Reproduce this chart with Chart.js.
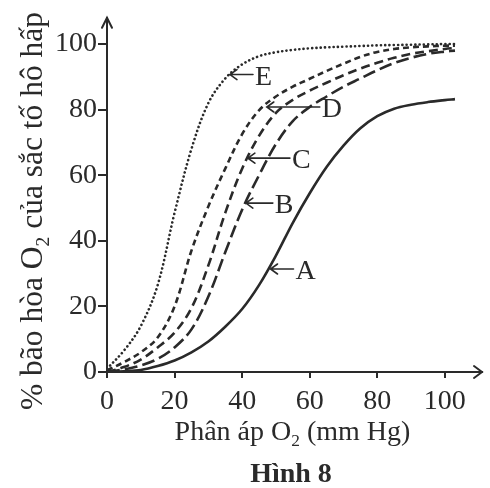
<!DOCTYPE html>
<html>
<head>
<meta charset="utf-8">
<script src="https://cdn.jsdelivr.net/npm/chart.js@4"></script>
<style>
  html, body { margin: 0; padding: 0; background: #fff; }
  #wrap { width: 490px; height: 488px; }
</style>
</head>
<body>
<div id="wrap"><canvas id="chart" width="490" height="488"></canvas></div>
<script>
// Oxygen dissociation curves, Hinh 8
const pressure = [0, 5, 10, 15, 20, 25, 30, 35, 40, 45, 50, 55, 60, 65, 70, 75, 80, 85, 90, 95, 100, 103];
const curveA = [0, 0.2, 0.6, 1.8, 3.5, 6, 9.3, 13.8, 19.2, 26.5, 35.5, 45.5, 54.5, 62.5, 69, 74.3, 78, 80.3, 81.5, 82.3, 82.9, 83.2];
const curveB = [0, 0.8, 2, 4, 7.5, 13, 23, 36.5, 49.5, 60, 69.5, 76.5, 80.8, 84, 87, 89.5, 92, 94.2, 95.8, 97, 97.7, 98];
const curveC = [0, 1.5, 3.8, 7.5, 12, 19.5, 32.5, 48.5, 62, 72, 79, 83, 85.8, 88.2, 90.5, 92.5, 94.3, 95.8, 97, 97.8, 98.5, 98.8];
const curveD = [0.5, 3, 6, 10.5, 20, 37, 50.5, 62, 72.5, 79.8, 84, 87, 89.4, 91.8, 94, 96.1, 97.6, 98.5, 99, 99.3, 99.5, 99.5];
const curveE = [1, 6.5, 14, 26.5, 48.5, 68, 82, 89.5, 93.8, 96.3, 97.5, 98.2, 98.7, 99, 99.2, 99.4, 99.6, 99.7, 99.8, 99.9, 100, 100];
const xTicks = [0, 20, 40, 60, 80, 100];
const yTicks = [0, 20, 40, 60, 80, 100];

const ink = '#2a2a2a';
const serif = "'Liberation Serif', 'Times New Roman', serif";

function points(values) {
    return values.map((v, i) => ({ x: pressure[i], y: v }));
}

function series(label, values, dash, cap) {
    return {
        label: label,
        data: points(values),
        borderColor: ink,
        borderWidth: 2.6,
        borderDash: dash,
        borderCapStyle: cap || 'butt',
        pointRadius: 0,
        fill: false,
        tension: 0.35
    };
}

// arrow tip sits on the curve (data units), line runs right for len px
const callouts = [
    { name: 'E', x: 36.4, y: 90.7, len: 23 },
    { name: 'D', x: 47.3, y: 80.8, len: 53 },
    { name: 'C', x: 41.7, y: 65.2, len: 42 },
    { name: 'B', x: 41.1, y: 51.5, len: 27 },
    { name: 'A', x: 48.4, y: 31.4, len: 23 }
];

function drawRich(ctx, parts, x, y, size, align) {
    let width = 0;
    parts.forEach(p => {
        ctx.font = (p.sub ? size * 0.62 : size) + 'px ' + serif;
        p.w = ctx.measureText(p.t).width;
        width += p.w;
    });
    let cx = align === 'center' ? x - width / 2 : x;
    parts.forEach(p => {
        ctx.font = (p.sub ? size * 0.62 : size) + 'px ' + serif;
        ctx.fillText(p.t, cx, p.sub ? y + size * 0.22 : y);
        cx += p.w;
    });
}

const decorations = {
    id: 'decorations',
    afterDraw(chart) {
        const ctx = chart.ctx;
        const xs = chart.scales.x, ys = chart.scales.y;
        const area = chart.chartArea;
        ctx.save();
        ctx.strokeStyle = ink;
        ctx.fillStyle = ink;
        ctx.lineWidth = 2;
        ctx.lineCap = 'round';

        // axis arrow heads
        ctx.beginPath();
        ctx.moveTo(area.left - 5, area.top + 10);
        ctx.lineTo(area.left, area.top);
        ctx.lineTo(area.left + 5, area.top + 10);
        ctx.moveTo(area.right - 8, area.bottom - 6);
        ctx.lineTo(area.right, area.bottom);
        ctx.lineTo(area.right - 8, area.bottom + 6);
        ctx.stroke();

        // curve callouts
        ctx.lineWidth = 1.6;
        ctx.textBaseline = 'alphabetic';
        ctx.textAlign = 'left';
        callouts.forEach(c => {
            const px = xs.getPixelForValue(c.x);
            const py = ys.getPixelForValue(c.y);
            ctx.beginPath();
            ctx.moveTo(px + 7, py - 5);
            ctx.lineTo(px, py);
            ctx.lineTo(px + 7, py + 5);
            ctx.moveTo(px, py);
            ctx.lineTo(px + c.len, py);
            ctx.stroke();
            ctx.font = '28px ' + serif;
            ctx.fillText(c.name, px + c.len + 2, py + 10);
        });

        // axis titles
        drawRich(ctx, [{ t: 'Phân áp O' }, { t: '2', sub: true }, { t: ' (mm Hg)' }],
            (area.left + area.right) / 2 - 2, 440, 28, 'center');

        ctx.save();
        ctx.translate(42, 211);
        ctx.rotate(-Math.PI / 2);
        drawRich(ctx, [{ t: '% bão hòa O' }, { t: '2', sub: true }, { t: ' của sắc tố hô hấp' }],
            0, 0, 31.5, 'center');
        ctx.restore();

        ctx.font = 'bold 28px ' + serif;
        ctx.textAlign = 'center';
        ctx.fillText('Hình 8', 291, 482);
        ctx.restore();
    }
};

new Chart(document.getElementById('chart').getContext('2d'), {
    type: 'line',
    data: {
        datasets: [
            series('A', curveA, []),
            series('B', curveB, [13, 5]),
            series('C', curveC, [9, 5]),
            series('D', curveD, [6, 4]),
            series('E', curveE, [0.1, 4.2], 'round')
        ]
    },
    options: {
        responsive: false,
        animation: false,
        events: [],
        layout: { padding: { top: 11, right: 8, left: 0, bottom: 0 } },
        plugins: {
            legend: { display: false },
            tooltip: { enabled: false }
        },
        scales: {
            x: {
                type: 'linear',
                min: 0,
                max: 111,
                afterBuildTicks: scale => { scale.ticks = xTicks.map(v => ({ value: v })); },
                afterFit: scale => { scale.height = 116; },
                border: { display: true, color: ink, width: 2 },
                grid: { drawOnChartArea: false, drawTicks: true, tickLength: 6, color: ink, lineWidth: 2 },
                ticks: { color: ink, font: { family: serif, size: 28 }, padding: 7, maxRotation: 0 }
            },
            y: {
                type: 'linear',
                min: 0,
                max: 108,
                afterBuildTicks: scale => { scale.ticks = yTicks.map(v => ({ value: v })); },
                afterFit: scale => { scale.width = 107; },
                border: { display: true, color: ink, width: 2 },
                grid: { drawOnChartArea: false, drawTicks: true, tickLength: 9, color: ink, lineWidth: 2 },
                ticks: { color: ink, font: { family: serif, size: 28 }, padding: 1 }
            }
        }
    },
    plugins: [decorations]
});
</script>
</body>
</html>
